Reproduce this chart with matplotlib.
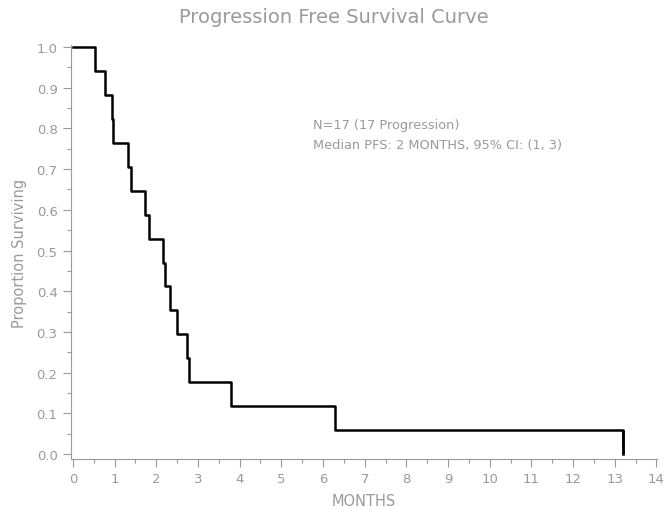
import numpy as np
import matplotlib.pyplot as plt
from matplotlib.ticker import MultipleLocator

# event times (months), all 17 patients progressed
event_months = [0.53, 0.76, 0.93, 0.96, 1.32, 1.39, 1.74, 1.83, 2.15,
                2.20, 2.33, 2.50, 2.73, 2.79, 3.80, 6.28, 13.19]
n_patients = 17
x_ticks = list(range(0, 15))
y_ticks = [0.0, 0.1, 0.2, 0.3, 0.4, 0.5, 0.6, 0.7, 0.8, 0.9, 1.0]

# Kaplan-Meier estimate (no censoring)
times = [0.0] + event_months
surv = [1.0] + [1.0 - (i + 1) / n_patients for i in range(len(event_months))]

grey = "#9a9a9a"
plt.rcParams["font.family"] = ["DejaVu Sans"]

fig = plt.figure(figsize=(6.68, 5.10), dpi=100)
ax = fig.add_axes([0.106, 0.098, 0.878, 0.812])

ax.step(times, surv, where="post", color="black", linewidth=1.8)
ax.vlines(event_months[-1], 0, surv[-2], color="black", linewidth=1.8)

ax.set_xlim(-0.05, 14.02)
ax.set_ylim(-0.012, 1.005)
ax.set_xticks(x_ticks)
ax.set_yticks(y_ticks)
ax.set_yticklabels([f"{v:.1f}" for v in y_ticks])
ax.xaxis.set_minor_locator(MultipleLocator(0.5))
ax.yaxis.set_minor_locator(MultipleLocator(0.05))

for side in ["top", "right"]:
    ax.spines[side].set_visible(False)
for side in ["left", "bottom"]:
    ax.spines[side].set_color(grey)
    ax.spines[side].set_linewidth(0.8)

ax.tick_params(which="major", length=6, width=0.8, color=grey,
               labelcolor=grey, labelsize=9.5)
ax.tick_params(which="minor", length=3, width=0.8, color=grey)
ax.tick_params(axis="x", pad=3)

ax.set_xlabel("MONTHS", color=grey, fontsize=10.5, labelpad=6)
ax.set_ylabel("Proportion Surviving", color=grey, fontsize=10.5, labelpad=7)
fig.suptitle("Progression Free Survival Curve", color=grey, fontsize=14,
             y=0.985)

ax.text(5.75, 0.81, "N=17 (17 Progression)", color=grey, fontsize=9.3,
        va="center")
ax.text(5.75, 0.76, "Median PFS: 2 MONTHS, 95% CI: (1, 3)", color=grey,
        fontsize=9.3, va="center")

fig.savefig("out.png", dpi=100)
